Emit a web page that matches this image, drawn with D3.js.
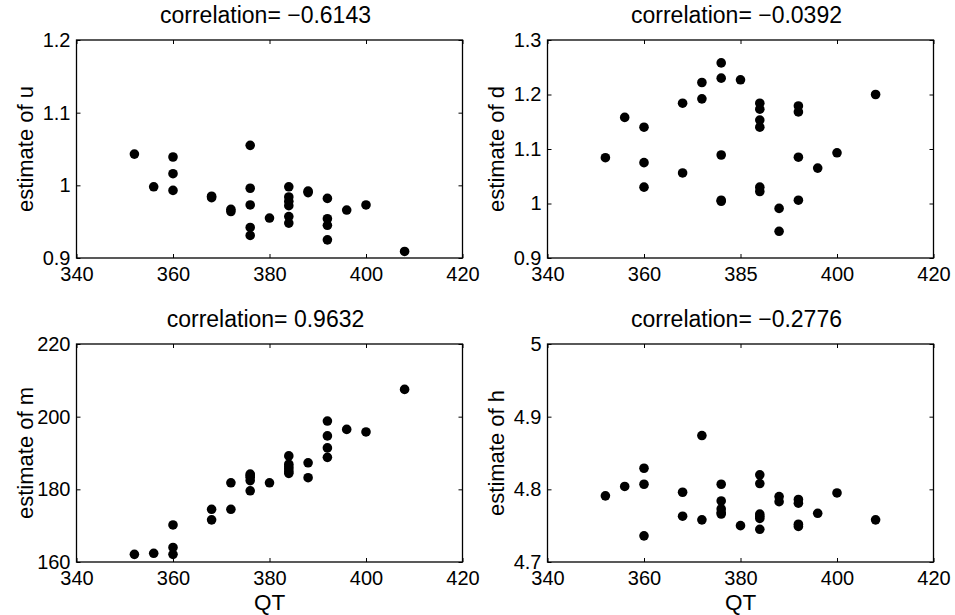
<!DOCTYPE html>
<html>
<head>
<meta charset="utf-8">
<script src="https://cdn.jsdelivr.net/npm/d3@7"></script>
<style>
  html, body { margin: 0; padding: 0; background: #fff; }
  svg { display: block; }
  text { font-family: "Liberation Sans", Arial, Helvetica, sans-serif; fill: #000; }
</style>
</head>
<body>
<svg id="chart" width="955" height="615"></svg>
<script>
// ---- data ----
const QT = [352,356,360,360,360,368,368,372,372,376,376,376,376,376,380,
            384,384,384,384,384,384,388,388,392,392,392,392,396,400,408];

const estU = [1.043,0.998,1.039,1.016,0.993,0.985,0.983,0.967,0.964,
              1.055,0.996,0.973,0.942,0.931,0.955,
              0.998,0.984,0.978,0.972,0.957,0.948,0.992,0.990,
              0.982,0.954,0.945,0.925,0.966,0.973,0.909];

const estD = [1.084,1.158,1.140,1.075,1.030,1.184,1.056,1.222,1.192,
              1.258,1.230,1.089,1.006,1.004,1.227,
              1.184,1.173,1.153,1.140,1.030,1.022,0.991,0.949,
              1.179,1.168,1.085,1.006,1.065,1.093,1.200];

const estM = [162.1,162.4,170.2,164.0,162.1,174.5,171.6,181.8,174.5,
              184.2,183.8,183.3,182.4,179.6,181.8,
              189.2,186.9,186.2,185.6,184.9,184.4,187.3,183.2,
              198.8,194.7,191.4,188.8,196.5,195.8,207.5];

const estH = [4.791,4.804,4.829,4.807,4.736,4.796,4.763,4.874,4.758,
              4.807,4.784,4.773,4.768,4.766,4.750,
              4.820,4.808,4.766,4.763,4.760,4.745,4.790,4.783,
              4.786,4.781,4.752,4.749,4.767,4.795,4.758];

const titles = ["correlation= \u22120.6143", "correlation= \u22120.0392",
                "correlation= 0.9632", "correlation= \u22120.2776"];
const yLabels = ["estimate of u", "estimate of d", "estimate of m", "estimate of h"];
const xLabel = "QT";

const xDomain = [340, 420];
const xTicks = [340, 360, 380, 400, 420];
const xTickLabelsStd = ["340", "360", "380", "400", "420"];
const xTickLabelsD = ["340", "360", "385", "400", "420"];

const yDomainU = [0.9, 1.2], yTicksU = [0.9, 1.0, 1.1, 1.2], yTickLabelsU = ["0.9", "1", "1.1", "1.2"];
const yDomainD = [0.9, 1.3], yTicksD = [0.9, 1.0, 1.1, 1.2, 1.3], yTickLabelsD = ["0.9", "1", "1.1", "1.2", "1.3"];
const yDomainM = [160, 220], yTicksM = [160, 180, 200, 220], yTickLabelsM = ["160", "180", "200", "220"];
const yDomainH = [4.7, 5.0], yTicksH = [4.7, 4.8, 4.9, 5.0], yTickLabelsH = ["4.7", "4.8", "4.9", "5"];

// ---- layout ----
const svg = d3.select("#chart");
const colsX = [76.5, 547.5];
const rowsY = [40, 344];
const W = 386, H = 218;

const panels = [
  {vals: estU, yd: yDomainU, yt: yTicksU, ytl: yTickLabelsU, xtl: xTickLabelsStd, col: 0, row: 0, showX: false},
  {vals: estD, yd: yDomainD, yt: yTicksD, ytl: yTickLabelsD, xtl: xTickLabelsD, col: 1, row: 0, showX: false},
  {vals: estM, yd: yDomainM, yt: yTicksM, ytl: yTickLabelsM, xtl: xTickLabelsStd, col: 0, row: 1, showX: true},
  {vals: estH, yd: yDomainH, yt: yTicksH, ytl: yTickLabelsH, xtl: xTickLabelsStd, col: 1, row: 1, showX: true}
];

panels.forEach((p, i) => {
  const g = svg.append("g").attr("transform", `translate(${colsX[p.col]},${rowsY[p.row]})`);
  const x = d3.scaleLinear().domain(xDomain).range([0, W]);
  const y = d3.scaleLinear().domain(p.yd).range([H, 0]);

  const xFmt = (d) => p.xtl[xTicks.indexOf(d)];
  const yFmt = (d) => p.ytl[p.yt.indexOf(d)];

  const ax = [
    g.append("g").attr("transform", `translate(0,${H})`)
      .call(d3.axisBottom(x).tickValues(xTicks).tickFormat(xFmt).tickSize(-4).tickPadding(9)),
    g.append("g")
      .call(d3.axisTop(x).tickValues(xTicks).tickFormat("").tickSize(-4)),
    g.append("g")
      .call(d3.axisLeft(y).tickValues(p.yt).tickFormat(yFmt).tickSize(-4).tickPadding(6)),
    g.append("g").attr("transform", `translate(${W},0)`)
      .call(d3.axisRight(y).tickValues(p.yt).tickFormat("").tickSize(-4))
  ];
  ax.forEach(a => {
    a.select(".domain").remove();
    a.selectAll(".tick line").attr("stroke", "#000").attr("stroke-width", 1);
    a.selectAll(".tick text").attr("font-size", 20).attr("font-family", "Liberation Sans, Arial, sans-serif").attr("fill", "#000");
  });

  g.append("rect").attr("x", 0).attr("y", 0).attr("width", W).attr("height", H)
    .attr("fill", "none").attr("stroke", "#000").attr("stroke-width", 1.3);

  g.selectAll("circle.pt").data(QT.map((q, k) => [q, p.vals[k]])).join("circle")
    .attr("class", "pt")
    .attr("cx", d => x(d[0])).attr("cy", d => y(d[1])).attr("r", 4.8)
    .attr("fill", "#000");

  g.append("text").attr("x", W / 2 - 4).attr("y", -17).attr("text-anchor", "middle")
    .attr("font-size", 23).text(titles[i]);

  g.append("text").attr("transform", `translate(${-44},${H / 2}) rotate(-90)`)
    .attr("text-anchor", "middle").attr("font-size", 22).text(yLabels[i]);

  if (p.showX) {
    g.append("text").attr("x", W / 2).attr("y", H + 47.9).attr("text-anchor", "middle")
      .attr("font-size", 22.5).text(xLabel);
  }
});
</script>
</body>
</html>
